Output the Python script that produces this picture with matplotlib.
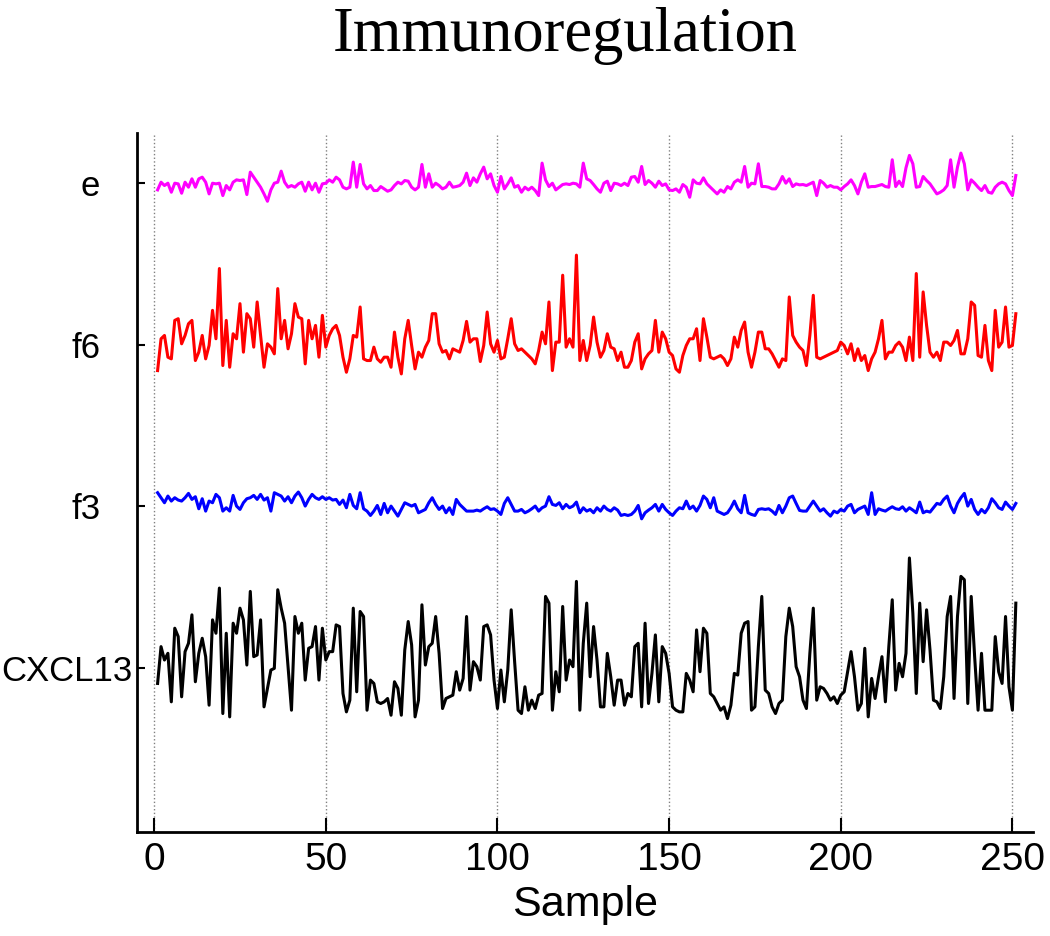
import numpy as np
import matplotlib
matplotlib.use('Agg')
import matplotlib.pyplot as plt
from matplotlib.transforms import ScaledTranslation

# Señales por fila (muestras 1..251)
e_vals = [
    -0.20, 0.03, -0.07, 0, -0.27, 0, -0.02, -0.30, 0.03, -0.12,
    0.13, -0.12, 0.13, 0.18, 0.03, -0.32, 0, -0.02, 0, -0.37,
    -0.07, -0.20, 0.03, 0.10, 0.08, 0.10, -0.34, 0.33, 0.18, 0.03,
    -0.12, -0.32, -0.54, -0.20, 0, 0.03, 0.36, 0.03, -0.12, -0.07,
    -0.12, -0.02, 0.03, -0.24, 0.03, -0.20, 0, -0.27, -0.02, 0,
    0.10, 0.03, 0.18, 0.10, -0.12, -0.17, -0.12, 0.63, -0.12, 0.56,
    -0.02, -0.17, -0.07, -0.22, -0.22, -0.10, -0.17, -0.24, -0.20, -0.07,
    0.03, -0.02, 0.08, 0.06, -0.12, -0.20, -0.12, 0.56, -0.12, 0.28,
    -0.12, 0, -0.07, -0.17, -0.12, 0.03, -0.12, -0.10, -0.07, 0.03,
    0.30, -0.07, 0.16, 0.03, 0.28, 0.48, 0.13, 0.28, -0.07, -0.27,
    0.20, -0.17, -0.02, 0.16, -0.12, -0.07, -0.27, -0.12, -0.20, -0.12,
    -0.22, -0.37, 0.60, 0.10, -0.10, 0, -0.20, -0.12, -0.04, -0.02,
    -0.04, 0, -0.02, -0.12, 0.60, 0.13, 0.08, -0.04, -0.17, -0.27,
    0, 0.06, -0.22, 0, -0.02, -0.07, 0, -0.07, 0.18, 0.20,
    0.03, 0.50, -0.04, 0.08, 0, -0.12, 0.06, -0.07, -0.02, -0.20,
    -0.22, -0.17, -0.27, -0.04, -0.12, -0.42, 0.10, 0, -0.02, 0.16,
    -0.02, -0.12, -0.22, -0.32, -0.20, -0.27, -0.10, -0.17, 0.03, 0.10,
    0.03, 0.50, -0.12, 0, -0.02, 0.58, -0.10, -0.10, -0.12, -0.17,
    -0.17, -0.02, 0.20, 0, 0.13, -0.10, -0.02, -0.05, -0.04, -0.07,
    -0.02, 0.03, -0.37, 0.08, 0, -0.12, -0.07, -0.12, -0.12, -0.20,
    -0.10, -0.02, 0.10, -0.07, -0.32, 0.03, 0.28, -0.12, -0.10, -0.10,
    -0.07, -0.04, -0.10, -0.12, 0.70, -0.10, 0.06, -0.10, 0.46, 0.83,
    0.58, -0.12, -0.10, 0.20, 0.08, -0.02, -0.17, -0.32, -0.27, -0.20,
    -0.07, 0.70, -0.12, 0.48, 0.90, 0.58, -0.20, 0.10, 0, -0.12,
    -0.22, -0.07, -0.27, -0.30, -0.12, -0.02, 0.03, -0.02, -0.22, -0.37, 0.23,
]

f6_vals = [
    -0.77, 0.18, 0.28, -0.37, -0.42, 0.73, 0.78, 0.03, 0.28, 0.63,
    0.73, -0.47, -0.22, 0.28, -0.42, -0.02, 1.03, 0.18, 2.28, -0.62,
    0.73, -0.67, 0.33, 0.18, 1.23, -0.22, 0.93, 0.78, -0.07, 1.28,
    0.28, -0.67, 0.03, -0.07, -0.27, 1.68, 0.18, 0.73, -0.12, 0.33,
    1.23, 0.83, 0.78, -0.57, 0.73, 0.18, 0.58, -0.37, 0.88, -0.07,
    0.28, 0.48, 0.58, 0.28, -0.37, -0.82, -0.42, 0.28, 0.23, 1.13,
    -0.42, -0.47, -0.47, -0.07, -0.42, -0.52, -0.37, -0.37, -0.67, 0.38,
    -0.37, -0.87, 0.18, 0.73, -0.02, -0.72, -0.22, -0.37, -0.07, 0.13,
    0.93, 0.93, 0.03, -0.22, -0.17, -0.42, -0.12, -0.17, -0.22, 0.13,
    0.70, 0.08, 0.18, 0.18, -0.50, -0.02, 0.98, 0.03, -0.22, 0.13,
    -0.42, -0.37, 0.18, 0.78, 0.03, -0.17, -0.12, -0.22, -0.32, -0.42,
    -0.57, -0.17, 0.38, 0.03, 1.28, -0.77, 0.08, 0.08, 2.08, -0.07,
    0.18, -0.07, 2.68, -0.47, 0.13, -0.47, -0.02, 0.83, 0.08, -0.37,
    -0.17, 0.33, -0.07, -0.12, -0.47, -0.22, -0.67, -0.67, -0.47, 0.08,
    0.33, -0.72, -0.42, -0.27, -0.17, 0.73, -0.22, 0.38, 0.18, -0.22,
    -0.32, -0.72, -0.82, -0.32, -0.02, 0.18, 0.18, 0.48, -0.47, 0.78,
    0.23, -0.37, -0.42, -0.37, -0.32, -0.42, -0.62, -0.42, 0.23, -0.07,
    0.43, 0.68, -0.22, -0.67, -0.22, 0.38, 0.38, -0.12, -0.12, -0.27,
    -0.47, -0.67, -0.42, -0.47, 1.43, 0.28, 0.08, -0.07, -0.17, -0.62,
    0.28, 1.48, -0.37, -0.42, -0.37, -0.32, -0.27, -0.22, -0.17, 0.08,
    -0.02, -0.27, 0.03, -0.47, -0.12, -0.47, -0.32, -0.77, -0.42, -0.22,
    0.18, 0.73, -0.42, -0.22, -0.22, -0.02, 0.08, -0.07, -0.47, 0.23,
    -0.47, 2.13, -0.37, 1.58, 0.58, -0.22, -0.37, -0.22, -0.47, 0.08,
    0.08, -0.02, 0.13, 0.43, -0.27, -0.27, 0.18, 1.28, 1.18, -0.32,
    -0.37, 0.58, -0.47, -0.77, 1.03, -0.07, 0.08, 1.13, -0.07, -0.02, 0.93,
]

f3_vals = [
    0.41, 0.26, 0.11, 0.31, 0.16, 0.26, 0.19, 0.16, 0.26, 0.39,
    0.21, 0.29, -0.07, 0.23, -0.14, 0.16, 0.11, 0.36, 0.26, -0.14,
    -0.04, -0.14, 0.33, 0.01, -0.09, 0.11, 0.23, 0.26, 0.33, 0.21,
    0.36, 0.19, 0.26, -0.14, 0.41, 0.36, 0.31, 0.16, 0.29, 0.11,
    0.31, 0.43, 0.26, 0.01, 0.21, 0.36, 0.26, 0.21, 0.29, 0.21,
    0.26, 0.19, 0.21, 0.06, 0.19, -0.04, 0.36, 0.03, -0.07, 0.41,
    -0.07, -0.14, -0.27, -0.14, 0.03, -0.24, 0.09, -0.19, 0.01, -0.14,
    -0.29, -0.09, 0.11, 0.06, 0.01, 0.06, -0.19, -0.14, -0.09, 0.11,
    0.26, 0.06, -0.09, 0.01, -0.19, -0.04, -0.24, 0.21, 0.06, -0.04,
    -0.14, -0.14, -0.14, -0.11, -0.14, -0.07, -0.01, -0.09, -0.07, -0.14,
    -0.24, 0.09, 0.26, 0.06, -0.14, -0.14, -0.09, -0.19, -0.14, -0.07,
    0.01, -0.14, -0.04, 0.01, 0.29, 0.06, 0.03, 0.11, -0.07, 0.06,
    -0.04, 0.01, 0.13, -0.19, -0.04, -0.14, -0.09, -0.19, -0.04, -0.14,
    0.01, -0.09, -0.14, -0.04, -0.11, -0.27, -0.24, -0.27, -0.24, -0.14,
    0.03, -0.37, -0.19, -0.11, -0.04, 0.06, -0.14, 0.06, -0.09, -0.19,
    -0.27, -0.14, -0.04, -0.07, 0.16, -0.07, 0.01, -0.14, 0.03, 0.31,
    0.21, -0.04, 0.26, -0.14, -0.19, -0.24, -0.19, -0.04, 0.16, -0.07,
    -0.19, 0.33, -0.19, -0.24, -0.27, -0.09, -0.07, -0.09, -0.07, -0.14,
    -0.24, 0.03, -0.19, 0.01, 0.26, 0.31, 0.09, -0.12, -0.14, -0.14,
    0.01, 0.16, 0.01, -0.14, -0.07, -0.19, -0.29, -0.14, -0.19, -0.09,
    -0.14, 0.01, 0.06, -0.19, -0.09, -0.04, 0.01, -0.24, 0.41, -0.24,
    -0.07, -0.11, -0.14, -0.07, -0.01, -0.07, -0.09, -0.01, -0.14, -0.04,
    -0.11, -0.19, 0.13, -0.19, -0.14, -0.17, -0.04, 0.09, 0.06, 0.21,
    0.31, 0.01, -0.19, 0.09, 0.26, 0.39, 0.01, 0.21, -0.09, -0.24,
    -0.09, -0.19, -0.04, 0.23, 0.11, -0.04, -0.09, 0.13, 0.01, -0.09, 0.09,
]

cxcl13_vals = [
    -0.46, 0.64, 0.24, 0.44, -1.01, 1.19, 0.94, -0.86, 0.49, 0.74,
    1.59, -0.41, 0.44, 0.89, 0.34, -1.11, 1.44, 1.04, 2.39, -1.36,
    1.04, -1.46, 1.34, 1.04, 1.79, 1.44, 0.09, 2.29, 0.34, 0.39,
    1.44, -1.16, -0.61, -0.06, -0.01, 2.34, 1.79, 1.34, 0.04, -1.26,
    1.54, 1.04, 1.34, -0.36, 0.59, 0.64, 1.24, -0.36, 1.19, 0.24,
    0.49, 0.49, 1.29, 1.24, -0.76, -1.31, -0.96, 1.79, -0.71, 1.69,
    1.54, -1.26, -0.36, -0.46, -1.01, -1.06, -1.01, -0.91, -1.41, -0.41,
    -0.61, -1.41, 0.54, 1.39, 0.69, -1.46, -0.96, 1.89, 0.09, 0.64,
    0.74, 1.54, 0.44, -1.21, -0.91, -0.86, -0.81, -0.11, -0.66, -0.31,
    1.54, -0.66, 0.19, 0.04, -0.36, 1.24, 1.29, 0.99, -0.36, -1.21,
    -0.06, -1.01, -0.06, 1.74, 0.19, -1.26, -1.36, -0.56, -1.26, -0.96,
    -1.21, -0.81, -0.76, 2.14, 1.94, -1.26, -0.11, -0.71, 1.84, -0.36,
    0.24, 0.04, 2.59, -1.26, 0.74, 1.94, -0.26, 1.24, 0.24, -1.16,
    -1.16, 0.44, -0.26, -1.11, -0.36, -0.36, -1.11, -0.76, -0.86, 0.64,
    0.74, -1.16, 1.34, -1.06, -0.16, 0.99, -1.01, 0.64, 0.44, -0.16,
    -1.16, -1.26, -1.31, -1.31, -0.16, -0.36, -0.71, 1.14, -0.11, 1.19,
    1.04, -0.76, -0.86, -1.06, -1.26, -1.16, -1.51, -1.11, -0.16, -0.21,
    1.04, 1.34, 1.39, -1.26, -1.16, 0.64, 2.14, -0.66, -0.76, -1.16,
    -1.36, -1.06, -0.96, 0.94, 1.79, 1.24, 0.04, -0.26, -0.96, -1.21,
    0.44, 1.79, -0.96, -0.56, -0.61, -0.76, -0.96, -0.86, -1.06, -0.81,
    -0.71, -0.11, 0.49, -0.26, -1.26, -1.06, 0.59, -1.46, -0.31, -0.91,
    -0.26, 0.34, -1.01, 0.64, 2.04, -0.66, 0.14, -0.26, 0.44, 3.29,
    1.64, -0.76, 1.94, 0.19, 1.74, 0.54, -0.96, -1.01, -1.21, -0.26,
    1.54, 2.14, -0.91, 1.54, 2.74, 2.64, -1.06, 2.14, 0.34, -1.26,
    0.44, -1.26, -1.26, -1.26, 0.94, -0.11, -0.46, 1.54, -0.56, -1.26, 1.94,
]

row_names = ['CXCL13', 'f3', 'f6', 'e']
row_vals = [cxcl13_vals, f3_vals, f6_vals, e_vals]
row_colors = ['black', '#0000ff', '#ff0000', '#ff00ff']
x_ticks = [0, 50, 100, 150, 200, 250]

spacing = 4.83  # separacion vertical entre filas

plt.rcParams['font.family'] = 'Liberation Sans'

fig = plt.figure(figsize=(10.5, 9.36), dpi=100)
ax = fig.add_axes([137 / 1050, 1 - 832 / 936, (1033 - 137) / 1050, (832 - 133) / 936])

# Graficar cada fila desplazada
for k, (vals, color) in enumerate(zip(row_vals, row_colors)):
    x = np.arange(1, len(vals) + 1)
    ax.plot(x, np.array(vals) + k * spacing, color=color, lw=2.2)

ax.set_xlim(-5, 256)
ax.set_ylim(-4.9, 15.99)
ax.set_xticks(x_ticks)
ax.set_yticks([k * spacing for k in range(len(row_names))])
ax.set_yticklabels(row_names)

for side in ['top', 'right']:
    ax.spines[side].set_visible(False)
for side in ['left', 'bottom']:
    ax.spines[side].set_linewidth(2.0)

ax.tick_params(axis='x', direction='in', length=10, width=1.5, labelsize=28, pad=7)
ax.tick_params(axis='y', direction='in', length=6, width=1.5, labelsize=25, pad=26.5)
ax.xaxis.grid(True, linestyle=':', color='0.5', lw=1.0)
ax.set_axisbelow(True)

# la etiqueta CXCL13 queda mas cerca del eje
lbl = ax.yaxis.get_major_ticks()[0].label1
lbl.set_transform(lbl.get_transform() + ScaledTranslation(0.32, 0, fig.dpi_scale_trans))

ax.set_xlabel('Sample', fontsize=31, labelpad=5)

fig.text(565 / 1050, 1 - 51 / 936, 'Immunoregulation', ha='center', va='baseline',
         family='Liberation Serif', fontsize=45)

fig.savefig('out.png', dpi=100)
